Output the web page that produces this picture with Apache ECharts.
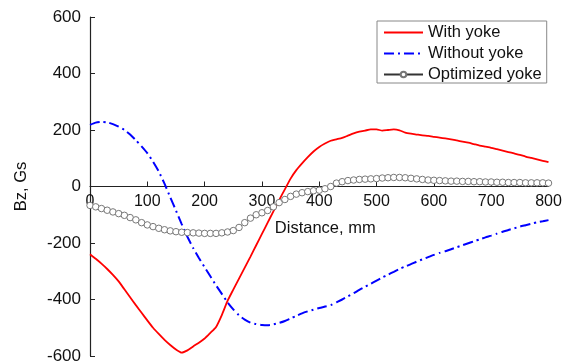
<!DOCTYPE html>
<html><head><meta charset="utf-8">
<script src="https://cdn.jsdelivr.net/npm/echarts@6/dist/echarts.min.js"></script>
<style>html,body{margin:0;padding:0;background:#fff}#c{width:570px;height:363px}</style>
</head><body><div id="c"></div>
<script>
var distance = [0,10,20,30,40,50,60,70,80,90,100,110,120,130,140,150,160,170,180,190,200,210,220,230,240,250,260,270,280,290,300,310,320,330,340,350,360,370,380,390,400,410,420,430,440,450,460,470,480,490,500,510,520,530,540,550,560,570,580,590,600,610,620,630,640,650,660,670,680,690,700,710,720,730,740,750,760,770,780,790,800];
var withYoke = [-240,-256,-273,-292,-313,-336,-364,-392,-420,-447,-474,-500,-522,-543,-561,-577,-588,-580,-566,-553,-538,-518,-497,-455,-405,-365,-326,-287,-248,-208,-168,-128,-88,-48,-10,28,58,82,104,124,140,152,162,167,172,180,188,194,198,202,202,198,200,202,199,191,187,184,181,179,176,173,170,167,163,159,155,150,145,141,137,132,127,122,117,112,106,101,96,91,86];
var withoutYoke = [218,226,229,227,221,212,200,184,164,142,118,88,53,10,-38,-85,-133,-178,-218,-253,-286,-318,-350,-380,-410,-435,-456,-471,-482,-487,-490,-491,-488,-483,-476,-467,-458,-449,-442,-436,-430,-425,-420,-410,-400,-389,-378,-366,-355,-344,-333,-322,-312,-302,-292,-283,-275,-266,-258,-250,-242,-235,-229,-222,-215,-208,-201,-194,-187,-180,-174,-167,-160,-154,-148,-142,-137,-132,-127,-123,-119];
var optimizedYoke = [-67,-72,-78,-84,-90,-96,-102,-110,-118,-128,-136,-142,-148,-153,-157,-160,-162,-163,-164,-165,-166,-166,-166,-164,-161,-156,-145,-128,-112,-100,-93,-85,-72,-57,-46,-35,-27,-22,-18,-15,-13,-8,0,12,17,21,23,25,26,27,28,30,31,32,32,31,29,27,25,23,22,21,20,19,19,18,18,17,17,16,16,15,15,14,14,14,13,13,13,13,12];
var seriesNames = ['With yoke','Without yoke','Optimized yoke'];
var yTicks = {min:-600, max:600, interval:200};
var xTicks = {min:0, max:800, interval:100};

function pairs(ys){ return distance.map(function(x,i){ return [x, ys[i]]; }); }

var gridTop = 17, gridBottomPx = 356, H = 363;
// x axis sits at y = 0, which is the vertical middle of the symmetric y range
var xAxisOffset = -(gridBottomPx - (gridTop + gridBottomPx) / 2);

var chart = echarts.init(document.getElementById('c'), null, {renderer:'canvas'});
var font = 'Liberation Sans, Arial, sans-serif';
chart.setOption({
  animation:false,
  backgroundColor:'#fff',
  grid:{left:90, right:21.5, top:gridTop, bottom:H - gridBottomPx, containLabel:false, outerBoundsMode:'none'},
  legend:{
    orient:'vertical', left:377, top:21,
    itemWidth:39, itemHeight:7, itemGap:4,
    padding:[3,5,0,6],
    borderColor:'#888', borderWidth:1, backgroundColor:'#fff',
    textStyle:{fontFamily:font, fontSize:16.5, color:'#111'},
    data:[
      {name:seriesNames[0], itemStyle:{color:'rgba(0,0,0,0)', borderWidth:0}},
      {name:seriesNames[1], itemStyle:{color:'rgba(0,0,0,0)', borderWidth:0}},
      {name:seriesNames[2]}
    ]
  },
  xAxis:{
    type:'value', min:xTicks.min, max:xTicks.max, interval:xTicks.interval,
    position:'bottom', offset:xAxisOffset,
    axisLine:{onZero:false, lineStyle:{color:'#222', width:1.2}},
    axisTick:{inside:true, length:5, lineStyle:{color:'#222'}},
    axisLabel:{fontFamily:font, fontSize:16, color:'#111', margin:7},
    splitLine:{show:false},
    name:'Distance, mm', nameLocation:'middle', nameGap:33,
    nameTextStyle:{fontFamily:font, fontSize:16.5, color:'#111', padding:[0,0,0,12]}
  },
  yAxis:{
    type:'value', min:yTicks.min, max:yTicks.max, interval:yTicks.interval,
    axisLine:{show:true, lineStyle:{color:'#222', width:1.2}},
    axisTick:{show:true, inside:true, length:5, lineStyle:{color:'#222'}},
    axisLabel:{fontFamily:font, fontSize:17, color:'#111', margin:9},
    splitLine:{show:false},
    name:'Bz, Gs', nameLocation:'middle', nameGap:60,
    nameTextStyle:{fontFamily:font, fontSize:16.5, color:'#111'}
  },
  series:[
    {name:seriesNames[0], type:'line', data:pairs(withYoke), symbol:'none', smooth:0.2,
     lineStyle:{color:'#ff0000', width:1.8}, itemStyle:{color:'#ff0000'}, z:3},
    {name:seriesNames[1], type:'line', data:pairs(withoutYoke), symbol:'none', smooth:0.2,
     lineStyle:{color:'#0000ff', width:2, type:[10,4,2,4]}, itemStyle:{color:'#0000ff'}, z:2},
    {name:seriesNames[2], type:'line', data:pairs(optimizedYoke), symbol:'circle', symbolSize:6.5,
     lineStyle:{color:'#333', width:1}, itemStyle:{color:'#fff', borderColor:'#777', borderWidth:1}, z:4}
  ]
});
</script></body></html>
